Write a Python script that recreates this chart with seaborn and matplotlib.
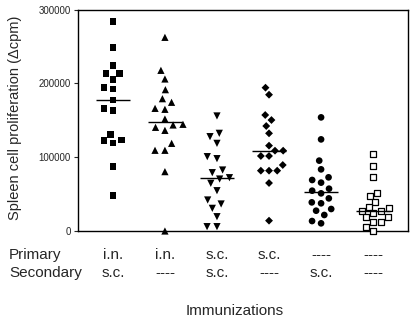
import numpy as np
import pandas as pd
import matplotlib
matplotlib.use("Agg")
import matplotlib.pyplot as plt
import matplotlib.transforms as mtransforms
import seaborn as sns

# ---- data ----
groups = ["G1", "G2", "G3", "G4", "G5", "G6"]
primary = ["i.n.", "i.n.", "s.c.", "s.c.", "----", "----"]
secondary = ["s.c.", "----", "s.c.", "----", "s.c.", "----"]

g1 = [283500, 248300, 224400, 213100, 213100, 205400, 194100, 192300, 177400,
      166100, 163000, 130900, 123300, 122800, 119600, 87100, 47900]
g2 = [262300, 217600, 205900, 191400, 179200, 174300, 166100, 164800, 151700,
      144500, 143600, 140400, 136300, 118700, 109300, 109300, 80400, 0]
g3 = [155800, 132300, 127800, 118700, 100700, 98000, 82600, 79000, 72200,
      70400, 64600, 54600, 42000, 36600, 30700, 19400, 5900, 5900]
g4 = [194100, 184600, 157100, 150300, 142200, 132300, 115600, 108800, 108800,
      101600, 101600, 89400, 81700, 81700, 81700, 65000, 14000]
g5 = [153900, 124100, 95300, 83500, 72700, 69100, 65500, 57300, 54600,
      51000, 44200, 38800, 37500, 29800, 27500, 21700, 13500, 10400]
g6 = [103800, 88000, 73100, 51000, 47400, 39700, 33000, 30700, 27500,
      27500, 23900, 19400, 18500, 12600, 12600, 5900, 0]

values = [g1, g2, g3, g4, g5, g6]
yticks = [0, 100000, 200000, 300000]

# ---- styles ----
markers = ["s", "^", "v", "D", "o", "s"]
sizes = [4.6, 5.2, 5.2, 4.0, 4.8, 4.8]
faces = ["black", "black", "black", "black", "black", "white"]

df = pd.DataFrame({
    "group": np.repeat(groups, [len(v) for v in values]),
    "value": np.concatenate(values),
})

sns.set_style("ticks")
plt.rcParams["font.family"] = ["Liberation Sans", "DejaVu Sans"]

fig = plt.figure(figsize=(4.14, 3.21), dpi=100)
ax = fig.add_axes([78 / 414, 1 - 231 / 321, 330 / 414, (231 - 9.5) / 321])

for g, m, s, fc in zip(groups, markers, sizes, faces):
    sub = df[df["group"] == g]
    if fc == "white":
        kw = dict(edgecolor="black", linewidth=0.9)
    else:
        # invisible edge widens the swarm spacing, as in the reference
        kw = dict(edgecolor="none", linewidth=1.6)
    sns.swarmplot(data=sub, x="group", y="value", order=groups, ax=ax,
                  marker=m, size=s, color=fc, **kw)

# drop empty collections made for the unused categories; let points on 0 show fully
for c in list(ax.collections):
    if len(c.get_offsets()) == 0:
        c.remove()
    else:
        c.set_clip_on(False)

meds = df.groupby("group")["value"].median().reindex(groups)
for i, med in enumerate(meds):
    ax.hlines(med, i - 0.33, i + 0.33, color="black", lw=1, zorder=5)

ax.set_xlim(-0.67, 5.67)
ax.set_ylim(0, 300000)
ax.set_yticks(yticks)
ax.set_yticklabels([str(t) for t in yticks], fontsize=7)
ax.tick_params(axis="y", length=3, width=0.8, pad=2)
ax.tick_params(axis="x", length=0, labelbottom=False)
ax.set_xlabel("")
ax.set_ylabel("")
for sp in ax.spines.values():
    sp.set_visible(True)
    sp.set_linewidth(1.0)
    sp.set_color("black")

fig.text(15 / 414, 1 - 118 / 321, "Spleen cell proliferation (\u0394cpm)",
         rotation=90, ha="center", va="center", fontsize=10.5)

trans = mtransforms.blended_transform_factory(ax.transData, fig.transFigure)
y_prim = 1 - 255 / 321
y_sec = 1 - 273 / 321
fig.text(9 / 414, y_prim, "Primary", ha="left", va="center", fontsize=11)
fig.text(9 / 414, y_sec, "Secondary", ha="left", va="center", fontsize=11)
for i, (p, s) in enumerate(zip(primary, secondary)):
    ax.text(i, y_prim, p, transform=trans, ha="center", va="center", fontsize=11)
    ax.text(i, y_sec, s, transform=trans, ha="center", va="center", fontsize=11)

fig.text(235 / 414, 1 - 311 / 321, "Immunizations", ha="center", va="center",
         fontsize=11)

fig.savefig("out.png", dpi=100)
